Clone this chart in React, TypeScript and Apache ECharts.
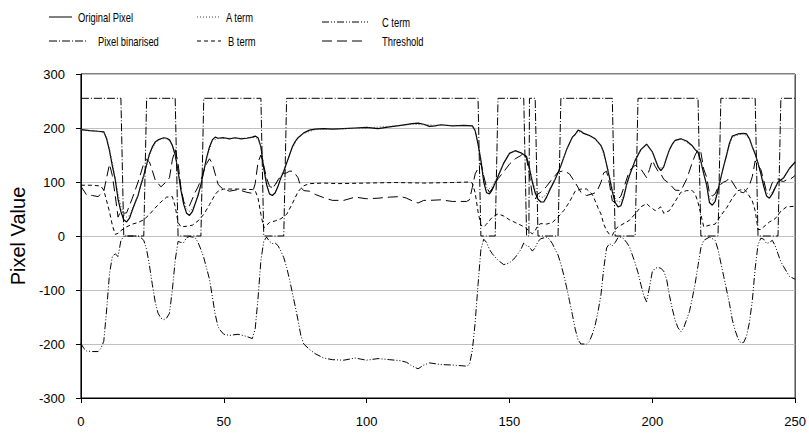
import React, { useEffect, useRef } from "react";
import * as echarts from "echarts";

type P = [number, number];

const xTicks = { min: 0, max: 250, interval: 50 };
const yTicks = { min: -300, max: 300, interval: 100 };

const originalPixel: P[] = [[0,197],[3,195],[6,194],[8,193],[9,180],[10,158],[11,130],[12,105],[13,68],[14,45],[15,30],[16,26],[17,33],[18,48],[19,62],[20,75],[21,95],[22,112],[23,132],[24,152],[25,165],[26,174],[27,178],[28,180],[29,182],[30,181],[31,178],[32,168],[33,150],[34,120],[35,85],[36,58],[37,42],[38,38],[39,45],[40,60],[41,75],[42,95],[43,120],[44,145],[45,165],[46,178],[47,183],[48,181],[50,182],[52,180],[54,182],[56,180],[58,181],[60,183],[61,185],[62,182],[63,165],[64,125],[65,95],[66,78],[67,75],[68,80],[69,92],[70,108],[71,120],[72,135],[73,150],[74,165],[75,175],[76,182],[78,191],[80,196],[82,198],[85,199],[88,198],[92,199],[96,200],[100,201],[104,199],[108,202],[112,205],[116,208],[118,209],[120,207],[122,203],[124,204],[126,206],[130,204],[134,205],[137,204],[138,195],[139,170],[140,140],[141,100],[142,80],[143,78],[144,86],[146,110],[148,135],[150,153],[152,158],[154,154],[156,147],[157,125],[158,100],[159,80],[160,68],[161,63],[162,63],[163,72],[164,84],[166,105],[168,130],[170,160],[172,183],[173,188],[174,196],[175,194],[176,190],[178,186],[180,180],[182,168],[183,155],[184,132],[185,108],[186,82],[187,62],[188,54],[189,56],[190,72],[191,95],[192,112],[194,140],[196,160],[198,170],[200,156],[201,142],[202,128],[203,121],[204,128],[205,145],[206,160],[207,170],[208,177],[210,180],[212,176],[214,167],[215,160],[216,155],[217,138],[218,115],[219,95],[220,62],[221,57],[222,64],[223,85],[224,108],[225,130],[226,150],[227,172],[228,185],[230,189],[232,190],[233,189],[234,180],[235,165],[236,152],[237,135],[238,115],[239,92],[240,74],[241,70],[242,78],[244,100],[246,108],[248,125],[250,137]];

const aTerm: P[] = [[0,197],[4,195],[8,192],[9,182],[10,162],[11,135],[12,108],[13,78],[14,55],[15,40],[16,35],[17,38],[18,50],[20,76],[22,112],[24,150],[26,172],[28,180],[30,180],[31,177],[32,167],[33,150],[34,122],[35,90],[36,65],[37,50],[38,46],[39,50],[40,62],[42,95],[44,143],[46,176],[48,181],[52,181],[56,181],[60,182],[61,183],[62,180],[63,165],[64,130],[65,102],[66,90],[67,91],[68,95],[70,110],[72,135],[74,163],[76,181],[78,190],[82,197],[90,199],[100,200],[110,204],[116,207],[120,206],[126,205],[137,204],[138,196],[139,172],[140,143],[141,108],[142,90],[143,88],[144,92],[146,112],[148,136],[150,154],[152,157],[154,154],[156,146],[157,128],[158,104],[159,86],[160,75],[161,72],[162,72],[164,86],[166,106],[168,130],[170,160],[172,182],[174,194],[176,190],[180,180],[182,168],[184,134],[186,88],[187,70],[188,63],[189,64],[190,76],[192,112],[194,140],[196,160],[198,170],[200,155],[202,130],[203,126],[204,130],[206,160],[208,177],[210,180],[214,167],[216,154],[218,117],[220,70],[221,66],[222,70],[224,108],[226,150],[228,184],[232,190],[234,180],[236,152],[238,117],[240,80],[241,77],[242,82],[244,100],[246,108],[248,125],[250,137]];

const bTerm: P[] = [[0,94],[2,94],[4,94],[6,93],[7,92],[8,85],[9,65],[10,45],[11,20],[12,3],[13,5],[14,10],[16,17],[18,22],[20,25],[22,30],[24,40],[26,52],[28,63],[30,72],[32,73],[33,55],[34,25],[35,17],[37,18],[39,20],[41,28],[43,40],[45,58],[47,77],[48,83],[50,87],[55,87],[60,86],[61,84],[62,70],[63,40],[64,15],[66,25],[68,28],[70,32],[72,40],[74,60],[76,82],[77,88],[78,93],[80,97],[85,98],[90,97],[100,98],[110,99],[120,98],[130,99],[136,100],[137,98],[138,80],[139,45],[140,20],[141,17],[142,22],[144,35],[146,41],[148,37],[150,30],[152,25],[154,20],[156,14],[157,8],[158,4],[159,10],[160,20],[161,23],[163,22],[165,25],[167,35],[169,47],[171,63],[173,83],[175,87],[177,87],[179,77],[180,65],[181,52],[182,41],[183,22],[184,10],[185,3],[186,1],[187,12],[188,17],[189,20],[192,29],[194,41],[196,54],[198,60],[199,55],[201,47],[203,54],[204,42],[206,47],[208,64],[210,81],[212,84],[214,84],[215,78],[216,62],[217,40],[218,17],[220,20],[222,22],[224,38],[226,52],[228,70],[230,84],[232,87],[233,82],[235,65],[236,47],[237,12],[238,12],[239,17],[241,26],[243,32],[245,46],[247,54],[250,55]];

const cTerm: P[] = [[0,-199],[1,-208],[2,-213],[4,-214],[6,-214],[7,-208],[8,-195],[9,-137],[10,-70],[11,-38],[12,-33],[13,-38],[14,-8],[15,-1],[16,0],[20,0],[21,-3],[22,-8],[23,-25],[24,-55],[25,-90],[26,-122],[27,-143],[28,-152],[29,-155],[30,-152],[31,-143],[32,-100],[33,-45],[34,-10],[35,-12],[36,-12],[37,-3],[38,-1],[40,-3],[41,-12],[42,-25],[43,-40],[44,-60],[45,-80],[46,-112],[47,-145],[48,-168],[49,-176],[50,-182],[52,-184],[55,-182],[58,-186],[60,-190],[61,-172],[62,-115],[63,-45],[64,-10],[65,-2],[66,-10],[67,-14],[68,-13],[69,-18],[70,-28],[71,-40],[72,-58],[73,-80],[74,-105],[75,-130],[76,-156],[77,-185],[78,-200],[80,-210],[82,-218],[85,-226],[88,-229],[92,-230],[96,-226],[98,-228],[100,-230],[104,-227],[108,-229],[112,-231],[114,-234],[116,-241],[118,-246],[120,-239],[122,-235],[126,-238],[130,-239],[135,-241],[136,-238],[137,-212],[138,-160],[139,-90],[140,-25],[141,-6],[142,-12],[143,-25],[144,-33],[146,-45],[148,-53],[150,-50],[152,-40],[154,-25],[155,-13],[156,-18],[157,-20],[158,-28],[159,-22],[160,-10],[161,-5],[163,-2],[164,-6],[165,-14],[166,-25],[167,-35],[168,-52],[169,-72],[170,-95],[171,-120],[172,-145],[173,-172],[174,-192],[175,-200],[177,-200],[178,-195],[179,-182],[180,-165],[181,-140],[182,-110],[183,-60],[184,-22],[185,-14],[186,-18],[187,-12],[188,-3],[189,-2],[190,-5],[191,-12],[192,-20],[193,-35],[194,-50],[195,-68],[196,-90],[197,-110],[198,-122],[199,-95],[200,-66],[201,-60],[202,-58],[203,-60],[204,-65],[205,-80],[206,-110],[207,-135],[208,-156],[209,-170],[210,-177],[211,-170],[212,-155],[213,-140],[214,-115],[215,-88],[216,-55],[217,-22],[218,-8],[220,-2],[222,-8],[223,-25],[224,-50],[225,-75],[226,-100],[227,-125],[228,-155],[229,-175],[230,-190],[231,-198],[232,-197],[233,-185],[234,-160],[235,-120],[236,-60],[237,-16],[238,-4],[239,-6],[240,-14],[241,-12],[242,-8],[243,-18],[244,-33],[245,-48],[246,-57],[248,-75],[250,-80]];

const threshold: P[] = [[0,92],[2,76],[4,75],[6,73],[7,78],[8,83],[9,108],[10,133],[11,112],[12,75],[13,35],[14,47],[15,42],[16,43],[18,70],[20,100],[22,134],[23,142],[24,137],[25,121],[26,104],[28,91],[30,101],[31,108],[32,141],[33,160],[34,135],[35,90],[36,63],[37,57],[38,56],[40,81],[41,91],[42,104],[43,120],[44,134],[45,143],[46,134],[47,115],[48,96],[49,90],[50,87],[52,83],[55,86],[58,81],[60,79],[61,97],[62,137],[63,150],[64,130],[65,107],[66,93],[67,87],[68,95],[69,104],[70,112],[71,116],[72,117],[73,120],[74,120],[75,115],[76,108],[77,90],[78,84],[80,83],[82,77],[85,71],[88,66],[92,66],[96,72],[100,69],[104,70],[108,72],[112,73],[114,70],[116,65],[118,61],[120,66],[122,66],[126,67],[130,64],[135,64],[136,67],[137,90],[138,115],[139,125],[140,135],[141,111],[142,90],[143,81],[144,88],[146,106],[148,119],[150,133],[152,143],[154,149],[155,154],[156,143],[157,113],[158,76],[159,68],[160,78],[161,81],[163,92],[165,106],[167,118],[169,121],[171,115],[173,99],[175,81],[177,75],[179,78],[180,80],[181,87],[182,99],[183,117],[184,120],[185,97],[186,65],[187,62],[188,68],[189,74],[190,89],[192,121],[194,131],[196,124],[198,108],[199,123],[200,140],[201,129],[202,120],[203,115],[204,105],[206,97],[208,85],[210,84],[212,105],[214,136],[215,150],[216,160],[217,155],[218,124],[219,109],[220,80],[221,74],[222,78],[223,90],[224,96],[225,100],[226,102],[227,108],[228,100],[230,83],[232,80],[233,86],[234,94],[235,110],[236,139],[237,131],[238,123],[239,103],[240,81],[241,84],[242,99],[243,103],[244,106],[245,102],[246,101],[247,104],[248,104],[250,112]];

const pixelBinarised: P[] = [[0,255],[14,255],[15,0],[22,0],[23,255],[33,255],[34,0],[42,0],[43,255],[63,255],[64,0],[71,0],[72,255],[139,255],[140,0],[145,0],[146,255],[155,255],[156,0],[156.8,0],[157,255],[159,255],[160,0],[167,0],[168,255],[186,255],[187,0],[194,0],[195,255],[216,255],[217,0],[223,0],[224,255],[236,255],[237,0],[244,0],[245,255],[250,255]];

const FONT = "'Liberation Sans', Arial, sans-serif";

const styles: Record<string, { type: number[] | "solid"; color: string; width: number }> = {
  "Original Pixel": { type: "solid", color: "#000", width: 1.2 },
  "A term": { type: [1, 2], color: "#444", width: 1 },
  "C term": { type: [7, 2, 1, 2, 1, 2], color: "#000", width: 1 },
  "Pixel binarised": { type: [8, 2, 1, 2], color: "#000", width: 1 },
  "B term": { type: [4, 3], color: "#000", width: 1 },
  "Threshold": { type: [10, 5], color: "#000", width: 1 },
};

const seriesData: [string, P[]][] = [
  ["Original Pixel", originalPixel],
  ["A term", aTerm],
  ["B term", bTerm],
  ["C term", cTerm],
  ["Threshold", threshold],
  ["Pixel binarised", pixelBinarised],
];

const legendItems: { name: string; x1: number; x2: number; y: number; tx: number }[] = [
  { name: "Original Pixel", x1: 49, x2: 72, y: 17, tx: 78 },
  { name: "Pixel binarised", x1: 49, x2: 87, y: 41, tx: 98 },
  { name: "A term", x1: 197, x2: 220, y: 17, tx: 226 },
  { name: "B term", x1: 197, x2: 221, y: 41, tx: 228 },
  { name: "C term", x1: 322, x2: 368, y: 22, tx: 382 },
  { name: "Threshold", x1: 322, x2: 365, y: 41, tx: 382 },
];

export default function App() {
  const ref = useRef<HTMLDivElement>(null);
  useEffect(() => {
    document.body.style.margin = "0";
    if (!ref.current) return;
    const chart = echarts.init(ref.current, undefined, { renderer: "svg" });
    const graphic: any[] = [];
    legendItems.forEach((it) => {
      const s = styles[it.name];
      graphic.push({
        type: "line",
        shape: { x1: it.x1, y1: it.y, x2: it.x2, y2: it.y },
        style: { stroke: s.color, lineWidth: 1, lineDash: s.type === "solid" ? null : s.type },
      });
      graphic.push({
        type: "text",
        x: it.tx,
        y: it.y,
        scaleX: 0.72,
        style: { text: it.name, font: `13px ${FONT}`, fill: "#000", verticalAlign: "middle", align: "left" },
      });
    });
    chart.setOption({
      animation: false,
      backgroundColor: "#fff",
      grid: { left: 69, right: 12, top: 74, bottom: 38, show: true, borderColor: "#000", borderWidth: 1, backgroundColor: "transparent" },
      xAxis: {
        type: "value",
        min: xTicks.min,
        max: xTicks.max,
        interval: xTicks.interval,
        axisLine: { show: true, onZero: false, lineStyle: { color: "#000", width: 1 } },
        axisTick: { show: true, length: 5, lineStyle: { color: "#000" } },
        splitLine: { show: false },
        axisLabel: { margin: 17, color: "#000", fontSize: 13, fontFamily: FONT },
      },
      yAxis: {
        type: "value",
        min: yTicks.min,
        max: yTicks.max,
        interval: yTicks.interval,
        name: "Pixel Value",
        nameLocation: "middle",
        nameRotate: 90,
        nameGap: 38,
        nameTextStyle: { fontSize: 20, color: "#000", fontFamily: FONT },
        axisLine: { show: true, lineStyle: { color: "#000", width: 1 } },
        axisTick: { show: true, length: 5, lineStyle: { color: "#000" } },
        splitLine: { show: true, lineStyle: { color: "#c0c0c0", width: 1 } },
        axisLabel: { margin: 16, color: "#000", fontSize: 13, fontFamily: FONT },
      },
      graphic,
      series: seriesData.map(([name, data]) => ({
        name,
        type: "line",
        data,
        symbol: "none",
        showSymbol: false,
        smooth: false,
        lineStyle: { color: styles[name].color, width: styles[name].width, type: styles[name].type },
      })),
    });
    return () => chart.dispose();
  }, []);
  return <div ref={ref} style={{ width: 809, height: 436 }} />;
}
